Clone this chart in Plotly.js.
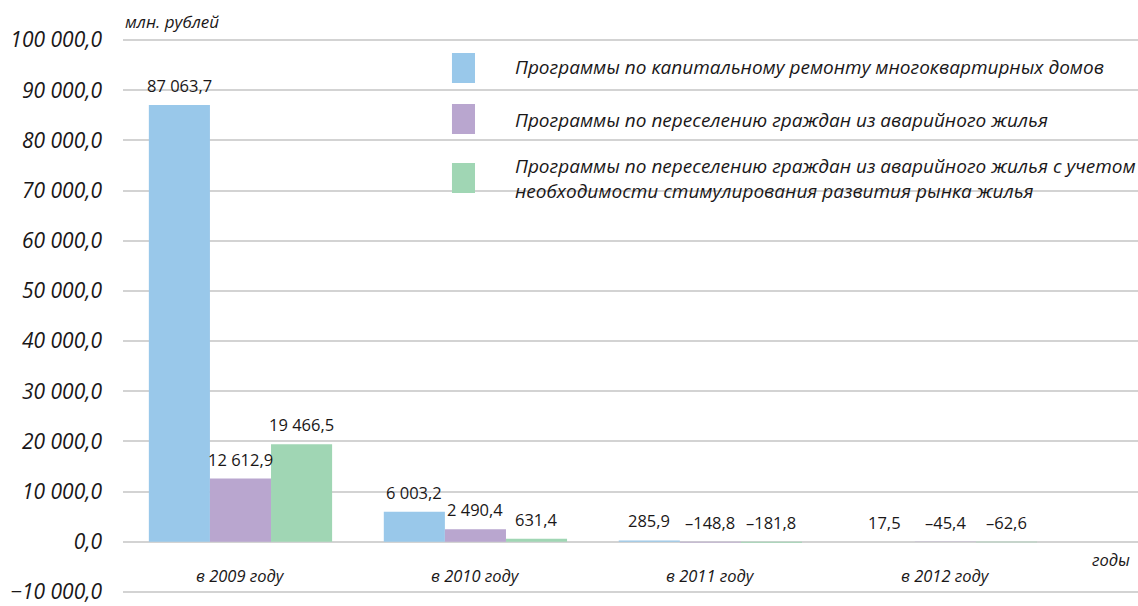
<!DOCTYPE html>
<html><head><meta charset="utf-8">
<script src="https://cdn.plot.ly/plotly-3.0.1.min.js"></script>
<style>html,body{margin:0;padding:0;background:#fff}#chart{width:1138px;height:606px}</style>
</head><body><div id="chart"></div>
<script>
const categories = ['в 2009 году', 'в 2010 году', 'в 2011 году', 'в 2012 году'];
const seriesNames = [
  'Программы по капитальному ремонту многоквартирных домов',
  'Программы по переселению граждан из аварийного жилья',
  'Программы по переселению граждан из аварийного жилья с учетом<br>необходимости стимулирования развития рынка жилья'
];
const capRepair = [87063.7, 6003.2, 285.9, 17.5];
const resettle = [12612.9, 2490.4, -148.8, -45.4];
const resettleMarket = [19466.5, 631.4, -181.8, -62.6];
const yTicks = [-10000, 0, 10000, 20000, 30000, 40000, 50000, 60000, 70000, 80000, 90000, 100000];
const colors = ['#99c8ea', '#b9a6cf', '#a0d6b4'];
const series = [capRepair, resettle, resettleMarket];

const FONT = 'Open Sans, sans-serif';
const TXT = '#1a1718';

function fmt(v) {
  const neg = v < 0;
  const a = Math.abs(v).toFixed(1).split('.');
  const intPart = a[0].replace(/\B(?=(\d{3})+(?!\d))/g, ' ');
  return (neg ? '\u2013' : '') + intPart + ',' + a[1];
}

const bargap = 0.22;
const xRange = [-0.5, 3.82];
const margin = {l: 123, r: 0, t: 38, b: 12};
const plotW = 1138 - margin.l - margin.r;
const pxPerCat = plotW / (xRange[1] - xRange[0]);
const barPx = pxPerCat * (1 - bargap) / 3;

const traces = series.map((vals, i) => ({
  type: 'bar', x: categories, y: vals, name: seriesNames[i],
  marker: {color: colors[i], line: {width: 0}},
  hoverinfo: 'skip', showlegend: false
}));

const annotations = [];
series.forEach((vals, i) => {
  vals.forEach((v, j) => {
    annotations.push({
      x: categories[j], y: Math.max(v, 0), xref: 'x', yref: 'y',
      text: fmt(v), showarrow: false, xanchor: 'center', yanchor: 'bottom',
      xshift: (i - 1) * barPx, yshift: 6,
      font: {family: FONT, size: 16.5, color: TXT}
    });
  });
});
categories.forEach(c => annotations.push({
  x: c, y: -6700, xref: 'x', yref: 'y', text: '<i>' + c + '</i>', showarrow: false,
  xanchor: 'center', yanchor: 'middle', font: {family: FONT, size: 16.5, color: TXT}
}));
annotations.push({x: 1, y: -3500, xref: 'paper', yref: 'y', text: '<i>годы</i>', showarrow: false,
  xanchor: 'right', yanchor: 'middle', xshift: -6, font: {family: FONT, size: 16.5, color: TXT}});
annotations.push({x: 0, y: 1.0288, xref: 'paper', yref: 'paper', text: '<i>млн. рублей</i>', showarrow: false,
  xanchor: 'left', yanchor: 'middle', font: {family: FONT, size: 17, color: TXT}});

// custom legend
const legY = [[0.9191, 0.9730, 0.9478], [0.8273, 0.8813, 0.8525], [0.7212, 0.7752, 0.7482]];
const shapes = [];
seriesNames.forEach((n, i) => {
  shapes.push({type: 'rect', xref: 'paper', yref: 'paper', x0: 0.3241, x1: 0.3468,
    y0: legY[i][0], y1: legY[i][1], fillcolor: colors[i], line: {width: 0}});
  annotations.push({x: 0.3842, y: legY[i][2], xref: 'paper', yref: 'paper', text: '<i>' + n + '</i>',
    showarrow: false, xanchor: 'left', yanchor: 'middle', align: 'left',
    font: {family: FONT, size: 19, color: TXT}});
});

const layout = {
  width: 1138, height: 606, margin: margin,
  paper_bgcolor: '#fff', plot_bgcolor: '#fff',
  barmode: 'group', bargap: bargap, bargroupgap: 0,
  separators: ', ',
  showlegend: false,
  xaxis: {type: 'category', range: xRange, showticklabels: false, showgrid: false,
    zeroline: false, showline: false, ticks: ''},
  yaxis: {range: [-10400, 100400], tickvals: yTicks, tickformat: ',.1f',
    showgrid: true, gridcolor: '#d3d3d3', gridwidth: 2,
    zeroline: true, zerolinecolor: '#d3d3d3', zerolinewidth: 2,
    showline: false, ticks: '', ticklabelstandoff: 20, ticklabeloverflow: 'allow',
    tickfont: {family: FONT, size: 21, color: TXT, style: 'italic'}},
  annotations: annotations, shapes: shapes,
  font: {family: FONT, color: TXT}
};
Plotly.newPlot('chart', traces, layout, {displayModeBar: false, staticPlot: true});
</script></body></html>
